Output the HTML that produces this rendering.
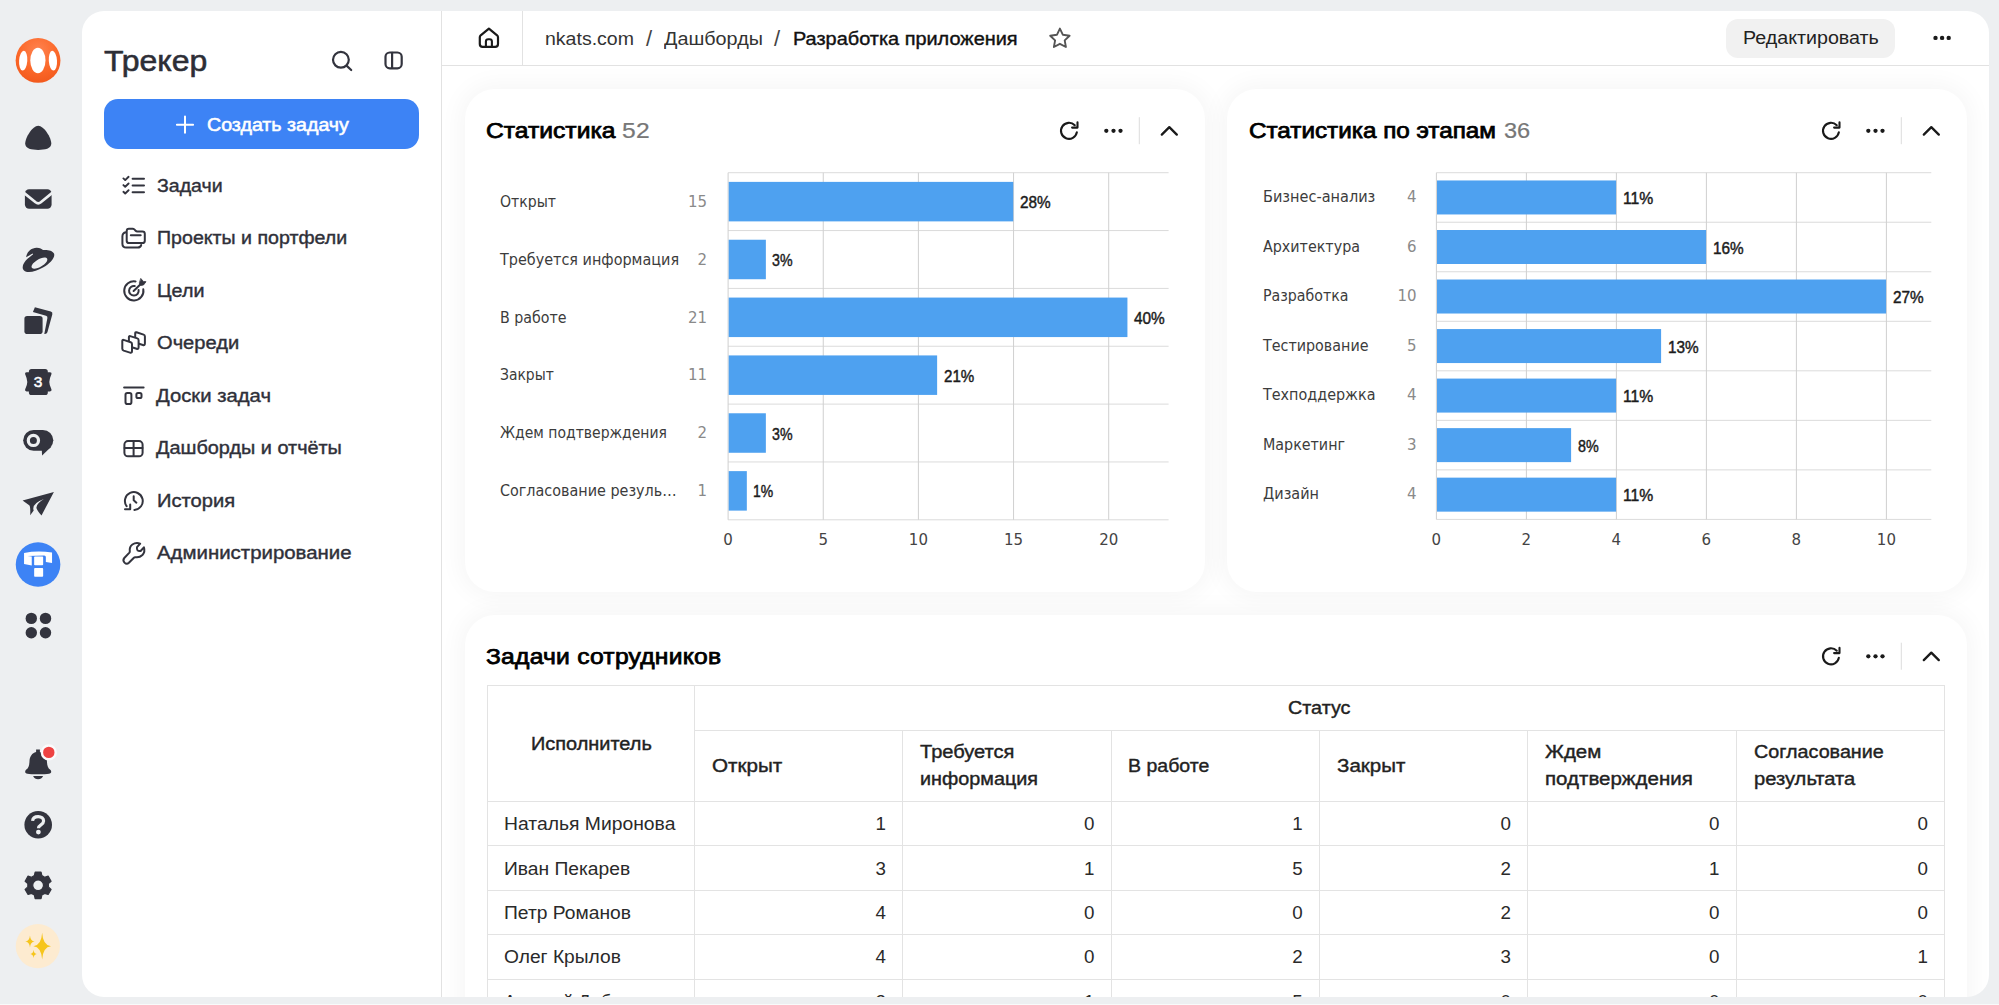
<!DOCTYPE html>
<html lang="ru">
<head>
<meta charset="utf-8">
<title>Разработка приложения</title>
<style>
*{box-sizing:border-box}
html,body{margin:0;padding:0}
body{width:1999px;height:1005px;background:#edeff1;position:relative;overflow:hidden;font-family:"Liberation Sans",sans-serif;color:#2d2e36}
.abs{position:absolute}
#rail{position:absolute;left:0;top:0;width:82px;height:1005px}
#panel{position:absolute;left:82px;top:11px;width:1907px;height:985.5px;background:#fff;border-radius:22px;overflow:hidden}
#inner{position:absolute;left:-82px;top:-11px;width:1999px;height:1005px}
.t{position:absolute;white-space:nowrap;line-height:1}
.vline{position:absolute;width:1px;background:#e3e3e3}
.hline{position:absolute;height:1px;background:#e3e3e3}
.card{position:absolute;background:#fff;border-radius:30px;box-shadow:0 0 24px 5px rgba(0,0,0,0.04)}
#create{position:absolute;left:104px;top:99.2px;width:315.2px;height:50.3px;border-radius:14px;background:#3d83f5}
#edit{position:absolute;left:1725.7px;top:18.6px;width:169.7px;height:39px;border-radius:12px;background:#f1f1f1}
</style>
</head>
<body>
<svg id="rail" viewBox="0 0 82 1005">
<defs>
<radialGradient id="lg" cx="0.5" cy="0.28" r="0.75"><stop offset="0" stop-color="#ff8350"/><stop offset="0.6" stop-color="#fb6728"/><stop offset="1" stop-color="#f1581c"/></radialGradient>
</defs>
<!-- logo -->
<circle cx="38.05" cy="60.45" r="22.4" fill="url(#lg)"/>
<ellipse cx="37.9" cy="60.45" rx="7.6" ry="12.7" fill="#fff"/>
<ellipse cx="23.2" cy="60.7" rx="4.1" ry="9.9" fill="#fff" transform="rotate(4 23.2 60.7)"/>
<ellipse cx="52.9" cy="60.7" rx="4.1" ry="9.9" fill="#fff" transform="rotate(-4 52.9 60.7)"/>
<g fill="#33343e">
<!-- alice -->
<path d="M38.2,125.7 C43.9,125.7 51.3,137.6 51.3,143.6 C51.3,148.9 44.8,149.9 38.2,149.9 C31.6,149.9 25.2,148.9 25.2,143.6 C25.2,137.6 32.5,125.7 38.2,125.7Z"/>
<!-- mail -->
<rect x="24.9" y="189.2" width="26.7" height="19.6" rx="4.2"/>
<path d="M23.6,192.6 L35.6,202.3 Q38.2,204.3 40.8,202.3 L52.9,192.4" fill="none" stroke="#edeff1" stroke-width="2.7"/>
<!-- disk -->
<path fill-rule="evenodd" d="M26.1,257.2 C27,251.5 31.5,248 36.5,247.8 C40,247.7 41.6,249.3 43,250 C47,249.6 52.5,250.2 54,253.5 C55.6,257.5 50,263.5 43,267.5 C36,271.5 27.5,273.8 24,270.5 C21,267.5 23.5,262.5 27.5,258.8 L33.2,254.2 L32.6,253.6 Z M47,258.6 C45.8,256.6 41.2,257.6 37,260.2 C32.8,262.8 30.6,266 31.9,267.8 C33.2,269.6 37.8,268.6 41.8,266 C46,263.4 48.2,260.4 47,258.6Z"/>
<!-- docs -->
<rect x="24.4" y="316.1" width="18.2" height="18" rx="2.8"/>
<path d="M34.9,307.3 L50.8,311.6 Q52.9,312.3 52.3,314.4 L47.4,332.3 Q46.8,334.1 45,334.1 L44.3,334.1 L47.4,318 Q47.7,316.2 46,315.7 L32.9,312.1 Z"/>
<!-- calendar -->
<rect x="28.9" y="368.9" width="18.9" height="26.2" rx="2.6"/>
<path d="M26.6,372.2 L50,372.2 Q52,372.2 51.5,374 Q49.3,379 49.3,381.9 Q49.3,385 51.5,389.6 Q52,391.4 50,391.4 L26.6,391.4 Q24.6,391.4 25.1,389.6 Q27.3,385 27.3,381.9 Q27.3,379 25.1,374 Q24.6,372.2 26.6,372.2Z"/>
<!-- telemost -->
<rect x="23.2" y="429.9" width="30.1" height="20.9" rx="10.45"/>
<path d="M41.8,450 L42.1,455.4 L51.5,446.5 Z"/>
<circle cx="33.4" cy="440.4" r="5.1" fill="none" stroke="#edeff1" stroke-width="3.2"/>
<!-- plane -->
<path d="M53.9,492.1 L22.6,500.4 L29.2,505.2 Q30.6,506.3 30.2,515.2 L33.7,510.6 Q31.2,503.8 43.9,499 Q36.5,503.5 36.4,507.4 Q36.6,510 41.5,515.4 Z"/>
<!-- apps -->
<circle cx="31.3" cy="618.4" r="5.7"/><circle cx="45.5" cy="618.4" r="5.7"/><circle cx="31.3" cy="632.7" r="5.7"/><circle cx="45.5" cy="632.7" r="5.7"/>
<!-- bell -->
<path d="M36.1,749.6 H39.9 V752 C44,753 46.6,756.5 46.9,761 C47.1,766 48,768 50,769.6 C52,771.2 51.5,773.1 49,773.7 C45,774.6 31,774.6 27.5,773.7 C24.6,773.1 24.6,771.2 26.3,769.6 C28.5,768 29.3,766 29.5,761 C29.8,756.5 32,753 36.1,752 Z"/>
<path d="M33.1,776 H43.1 Q41.5,779.2 38.1,779.2 Q34.7,779.2 33.1,776Z"/>
<!-- help -->
<circle cx="38.2" cy="824.7" r="13.8"/>
<!-- gear -->
<path fill-rule="evenodd" stroke="#33343e" stroke-width="1.2" stroke-linejoin="round" d="M34.37,875.59 L35.16,872.02 L41.04,872.02 L41.83,875.59 L44.64,877.22 L48.13,876.11 L51.07,881.21 L48.37,883.67 L48.37,886.93 L51.07,889.39 L48.13,894.49 L44.64,893.38 L41.83,895.01 L41.04,898.58 L35.16,898.58 L34.37,895.01 L31.56,893.38 L28.07,894.49 L25.13,889.39 L27.83,886.93 L27.83,883.67 L25.13,881.21 L28.07,876.11 L31.56,877.22Z M38.1,879.9 A5.4,5.4 0 1 0 38.1,890.7 A5.4,5.4 0 1 0 38.1,879.9Z"/>
</g>
<!-- calendar number -->
<text x="38.1" y="386.9" text-anchor="middle" font-family="Liberation Sans, sans-serif" font-weight="normal" font-size="15.5" fill="#fff" stroke="#fff" stroke-width="0.5">3</text>
<!-- bell badge -->
<circle cx="48.8" cy="752.4" r="6.9" fill="#ee4343" stroke="#fbfbfc" stroke-width="2.4"/>
<!-- help ? -->
<path d="M32.6,820.8 C32.8,818 35.2,816.6 38.2,816.6 C41.4,816.6 43.6,818.3 43.6,821 C43.6,825 38.5,824.6 38.5,828.2" fill="none" stroke="#edeff1" stroke-width="3.2"/>
<circle cx="38.4" cy="832.1" r="2.4" fill="#edeff1"/>
<!-- tracker -->
<circle cx="38.05" cy="564.5" r="22.3" fill="#3d83f5"/>
<g transform="translate(38.05 564.5)" fill="#fff">
<path d="M-14,-11.6 Q0,-14.2 14,-11.9 L14,-1.6 L7.8,-2.4 L7.8,-7.4 Q7.8,-8.9 6.2,-8.9 L-10.7,-8.5 L-6.3,-8 L-6.3,0.9 L-14,-0.6 Z"/>
<rect x="-3.9" y="-7.9" width="9" height="8.6" rx="0.8"/>
<rect x="-3.9" y="3.6" width="9" height="8.7" rx="0.8"/>
</g>
<!-- sparkle -->
<circle cx="37.85" cy="946.15" r="22.1" fill="#fdebd0"/>
<g fill="#f6c51c">
<path d="M42.15,932.7 Q42.9,945.4 51,946.15 Q42.9,946.9 42.15,959.6 Q41.4,946.9 33.3,946.15 Q41.4,945.4 42.15,932.7Z"/>
<path d="M29.97,935.5 Q30.4,941.1 34.6,941.55 Q30.4,942 29.97,947.6 Q29.5,942 25.3,941.55 Q29.5,941.1 29.97,935.5Z"/>
<path d="M33.55,949.8 Q33.9,953.5 36.7,953.9 Q33.9,954.3 33.55,958 Q33.2,954.3 30.4,953.9 Q33.2,953.5 33.55,949.8Z"/>
</g>

</svg>
<div class="abs" style="left:0;top:1004px;width:1999px;height:1px;background:#f9fafa"></div>
<div id="panel"><div id="inner">
<div class="card" style="left:464.5px;top:89px;width:740px;height:502.8px"></div>
<div class="card" style="left:1227px;top:89px;width:739.5px;height:502.8px"></div>
<div class="card" style="left:464.5px;top:614.5px;width:1502px;height:500px"></div>
<div class="vline" style="left:441px;top:0;height:1005px;background:#e2e2e2"></div>
<div class="hline" style="left:441px;top:65px;width:1560px;background:#e2e2e2"></div>
<div class="vline" style="left:522px;top:11px;height:54px;background:#e2e2e2"></div>
<div id="create"></div>
<div id="edit"></div>
<svg class="abs" style="left:0;top:0" width="1999" height="1005" viewBox="0 0 1999 1005"><g><rect x="728.10" y="172.20" width="440.50" height="1" fill="#dbdbdb"/><rect x="728.10" y="230.05" width="440.50" height="1" fill="#dbdbdb"/><rect x="728.10" y="287.90" width="440.50" height="1" fill="#dbdbdb"/><rect x="728.10" y="345.75" width="440.50" height="1" fill="#dbdbdb"/><rect x="728.10" y="403.60" width="440.50" height="1" fill="#dbdbdb"/><rect x="728.10" y="461.45" width="440.50" height="1" fill="#dbdbdb"/><rect x="728.10" y="519.30" width="440.50" height="1" fill="#dbdbdb"/><rect x="727.60" y="172.70" width="1" height="347.10" fill="#d0d0d0"/><rect x="822.75" y="172.70" width="1" height="347.10" fill="#d0d0d0"/><rect x="917.90" y="172.70" width="1" height="347.10" fill="#d0d0d0"/><rect x="1013.05" y="172.70" width="1" height="347.10" fill="#d0d0d0"/><rect x="1108.20" y="172.70" width="1" height="347.10" fill="#d0d0d0"/><rect x="728.70" y="181.88" width="284.55" height="39.50" fill="#4ea1f0"/><rect x="728.70" y="239.73" width="37.16" height="39.50" fill="#4ea1f0"/><rect x="728.70" y="297.57" width="398.73" height="39.50" fill="#4ea1f0"/><rect x="728.70" y="355.42" width="208.43" height="39.50" fill="#4ea1f0"/><rect x="728.70" y="413.27" width="37.16" height="39.50" fill="#4ea1f0"/><rect x="728.70" y="471.12" width="18.13" height="39.50" fill="#4ea1f0"/></g><g><rect x="1436.40" y="172.20" width="494.90" height="1" fill="#dbdbdb"/><rect x="1436.40" y="221.73" width="494.90" height="1" fill="#dbdbdb"/><rect x="1436.40" y="271.26" width="494.90" height="1" fill="#dbdbdb"/><rect x="1436.40" y="320.79" width="494.90" height="1" fill="#dbdbdb"/><rect x="1436.40" y="370.32" width="494.90" height="1" fill="#dbdbdb"/><rect x="1436.40" y="419.85" width="494.90" height="1" fill="#dbdbdb"/><rect x="1436.40" y="469.38" width="494.90" height="1" fill="#dbdbdb"/><rect x="1436.40" y="518.91" width="494.90" height="1" fill="#dbdbdb"/><rect x="1435.90" y="172.70" width="1" height="346.71" fill="#d0d0d0"/><rect x="1525.90" y="172.70" width="1" height="346.71" fill="#d0d0d0"/><rect x="1615.90" y="172.70" width="1" height="346.71" fill="#d0d0d0"/><rect x="1705.90" y="172.70" width="1" height="346.71" fill="#d0d0d0"/><rect x="1795.90" y="172.70" width="1" height="346.71" fill="#d0d0d0"/><rect x="1885.90" y="172.70" width="1" height="346.71" fill="#d0d0d0"/><rect x="1437.00" y="180.46" width="179.10" height="34.00" fill="#4ea1f0"/><rect x="1437.00" y="230.00" width="269.10" height="34.00" fill="#4ea1f0"/><rect x="1437.00" y="279.52" width="449.10" height="34.00" fill="#4ea1f0"/><rect x="1437.00" y="329.06" width="224.10" height="34.00" fill="#4ea1f0"/><rect x="1437.00" y="378.58" width="179.10" height="34.00" fill="#4ea1f0"/><rect x="1437.00" y="428.12" width="134.10" height="34.00" fill="#4ea1f0"/><rect x="1437.00" y="477.64" width="179.10" height="34.00" fill="#4ea1f0"/></g></svg>
<div class="hline" style="left:487.3px;top:684.7px;width:1457.3px"></div><div class="hline" style="left:694.3px;top:730.1px;width:1250.3px"></div><div class="hline" style="left:487.3px;top:800.7px;width:1457.3px"></div><div class="hline" style="left:487.3px;top:845.1px;width:1457.3px"></div><div class="hline" style="left:487.3px;top:889.6px;width:1457.3px"></div><div class="hline" style="left:487.3px;top:934.1px;width:1457.3px"></div><div class="hline" style="left:487.3px;top:978.7px;width:1457.3px"></div><div class="vline" style="left:486.8px;top:685.2px;height:330.0px"></div><div class="vline" style="left:693.8px;top:685.2px;height:330.0px"></div><div class="vline" style="left:1944.1px;top:685.2px;height:330.0px"></div><div class="vline" style="left:902.2px;top:730.6px;height:290.0px"></div><div class="vline" style="left:1110.6px;top:730.6px;height:290.0px"></div><div class="vline" style="left:1318.9px;top:730.6px;height:290.0px"></div><div class="vline" style="left:1527.3px;top:730.6px;height:290.0px"></div><div class="vline" style="left:1735.7px;top:730.6px;height:290.0px"></div>

<svg class="abs" style="left:0;top:0" width="1999" height="1005" viewBox="0 0 1999 1005">
<g fill="none" stroke="#33343e" stroke-width="2" stroke-linecap="round" stroke-linejoin="round">
<!-- search -->
<circle cx="340.9" cy="59.8" r="7.9" stroke-width="2.2"/><path d="M346.8,65.9 L351.2,70" stroke-width="2.2"/>
<!-- panel toggle -->
<rect x="385.5" y="52.5" width="16.2" height="15.8" rx="4.3" stroke-width="2.2"/><path d="M392.1,52.8 V68" stroke-width="2.2"/>
<!-- plus -->
<path d="M185,116.6 V132.8 M176.9,124.7 H193.1" stroke="#fff" stroke-width="2"/>
<!-- tasks -->
<path d="M132.6,178.8 H144 M132.6,185.5 H144 M132.6,192.2 H144"/>
<path d="M123.4,178.4 L125.2,180.1 L128.6,176.8 M123.4,185.1 L125.2,186.8 L128.6,183.5 M123.4,191.8 L125.2,193.5 L128.6,190.2" stroke-width="1.9"/>
<!-- projects -->
<path d="M128.9,228.7 H132.6 Q133.6,228.7 134.3,229.4 L135.6,230.7 Q136.3,231.4 137.3,231.4 H142.4 Q144.8,231.4 144.8,233.8 V240.7 Q144.8,243.1 142.4,243.1 H129.1 Q126.7,243.1 126.7,240.7 V231.1 Q126.7,228.7 128.9,228.7Z"/>
<path d="M130.8,235.3 H140.7"/>
<path d="M125.9,232.3 Q122.4,232.9 122.4,236.6 V243.8 Q122.4,247.6 126.2,247.6 H137.6 Q140.6,247.6 141.2,245"/>
<!-- goals -->
<path d="M135.6,281.4 A9.6,9.6 0 1 0 143.3,289.3"/>
<path d="M134.8,286.1 A4.8,4.8 0 1 0 138.6,290"/>
<path d="M133.6,291 L140,284.8"/>
<path d="M141,278.7 L143.3,281.4 L146,281.7 L143.5,285 L140.6,285.5 L139.4,283.4 Z" fill="#33343e" stroke-width="0.8"/>
<!-- queues -->
<g fill="#fff">
<path d="M136.5,332.3 L143.6,334.6 Q144.9,335 144.9,336.4 V343.3 Q144.9,345.6 142.9,345 L136.6,343 Q135.2,342.5 135.2,341.1 V333.4 Q135.2,331.9 136.5,332.3Z"/>
<path d="M130.2,336.1 L137.3,338.4 Q138.6,338.8 138.6,340.2 V347.1 Q138.6,349.4 136.6,348.8 L130.3,346.8 Q128.9,346.3 128.9,344.9 V337.2 Q128.9,335.7 130.2,336.1Z"/>
<path d="M123.6,339.9 L130.7,342.2 Q132,342.6 132,344 V350.9 Q132,353.2 130,352.6 L123.7,350.6 Q122.3,350.1 122.3,348.7 V341 Q122.3,339.5 123.6,339.9Z"/>
</g>
<!-- boards -->
<path d="M124.1,387.5 H143.6"/>
<rect x="125.5" y="392.9" width="5.9" height="11.2" rx="1.8"/>
<rect x="136.4" y="392.9" width="5.1" height="5.2" rx="1.6"/>
<!-- dashboards -->
<rect x="124.4" y="441.1" width="18.2" height="15.2" rx="3.6"/>
<path d="M133.6,441.3 V456.1 M124.6,448 H142.4"/>
<!-- history -->
<path d="M134.4,509.9 A8.9,8.9 0 1 0 126.6,506.2"/>
<path d="M125,509.3 H130.2 V504.4"/>
<path d="M133.7,496.2 V500.3 L136.4,502.7"/>
<!-- wrench -->
<path d="M124.3,558 L129.4,552.6 Q129.9,552 129.8,551.2 Q129.2,546.8 132.4,544.5 Q135.8,542.2 140.2,543.6 L137,547.2 Q136.6,549.5 137.6,550.4 Q138.6,551.4 140.6,551 L143.9,547.3 Q145.4,551.6 142.4,555 Q139.4,558 135.3,557.2 Q134.5,557.1 133.9,557.7 L128.9,562.8 Q126.7,564.8 124.5,562.6 Q122.4,560.3 124.3,558Z"/>
</g>
<g fill="none" stroke="#1a1a1a" stroke-width="2.1" stroke-linecap="round" stroke-linejoin="round">
<!-- home -->
<path d="M488.9,28.6 L497.1,35.3 Q498,36.1 498,37.3 V44 Q498,46.8 495.2,46.8 H482.6 Q479.8,46.8 479.8,44 V37.3 Q479.8,36.1 480.7,35.3 Z" stroke-width="2.2"/>
<path d="M485.9,46.6 V41.6 Q485.9,39.3 488.2,39.3 H489.6 Q491.9,39.3 491.9,41.6 V46.6" stroke-width="2.1"/>
<path d="M1074.75,125.24 A8,8 0 1 0 1076.88,132.19" /><path d="M1077.50,122.40 V127.60 H1072.10" /><path d="M1161.80,134.60 L1169.30,127.10 L1176.80,134.60" stroke-width="2.3"/><circle cx="1106.30" cy="130.80" r="2.15" fill="#1a1a1a" stroke="none"/><circle cx="1113.50" cy="130.80" r="2.15" fill="#1a1a1a" stroke="none"/><circle cx="1120.50" cy="130.80" r="2.15" fill="#1a1a1a" stroke="none"/><rect x="1138.80" y="117.20" width="1" height="27" fill="#dcdcdc" stroke="none"/>
<path d="M1836.75,125.24 A8,8 0 1 0 1838.88,132.19" /><path d="M1839.50,122.40 V127.60 H1834.10" /><path d="M1923.80,134.60 L1931.30,127.10 L1938.80,134.60" stroke-width="2.3"/><circle cx="1868.30" cy="130.80" r="2.15" fill="#1a1a1a" stroke="none"/><circle cx="1875.50" cy="130.80" r="2.15" fill="#1a1a1a" stroke="none"/><circle cx="1882.50" cy="130.80" r="2.15" fill="#1a1a1a" stroke="none"/><rect x="1900.80" y="117.20" width="1" height="27" fill="#dcdcdc" stroke="none"/>
<path d="M1836.75,650.74 A8,8 0 1 0 1838.88,657.69" /><path d="M1839.50,647.90 V653.10 H1834.10" /><path d="M1923.80,660.10 L1931.30,652.60 L1938.80,660.10" stroke-width="2.3"/><circle cx="1868.30" cy="656.30" r="2.15" fill="#1a1a1a" stroke="none"/><circle cx="1875.50" cy="656.30" r="2.15" fill="#1a1a1a" stroke="none"/><circle cx="1882.50" cy="656.30" r="2.15" fill="#1a1a1a" stroke="none"/><rect x="1900.80" y="642.70" width="1" height="27" fill="#dcdcdc" stroke="none"/>
</g>
<!-- star -->
<path d="M1059.9,28.6 L1062.9,34.8 L1069.6,35.7 L1064.7,40.4 L1065.9,47 L1059.9,43.8 L1053.9,47 L1055.1,40.4 L1050.2,35.7 L1056.9,34.8 Z" fill="none" stroke="#555" stroke-width="1.9" stroke-linejoin="round"/>
<!-- topbar dots -->
<circle cx="1935.5" cy="37.9" r="2.2" fill="#1a1a1a"/><circle cx="1942.1" cy="37.9" r="2.2" fill="#1a1a1a"/><circle cx="1948.7" cy="37.9" r="2.2" fill="#1a1a1a"/>
</svg>

<div class="t" style="top:46.00px;font:normal 30px/1 'Liberation Sans',sans-serif;color:#2d2e36;-webkit-text-stroke:0.55px #2d2e36;transform:scaleX(1.0667);transform-origin:0 0;left:104.40px;">Трекер</div>
<div class="t" style="top:116.00px;font:normal 18.75px/1 'Liberation Sans',sans-serif;color:#fff;-webkit-text-stroke:0.55px #fff;transform:scaleX(1.0465);transform-origin:0 0;left:207.10px;">Создать задачу</div>
<div class="t" style="top:177.00px;font:normal 18.75px/1 'Liberation Sans',sans-serif;color:#2f3039;-webkit-text-stroke:0.4px #2f3039;transform:scaleX(1.0436);transform-origin:0 0;left:157.00px;">Задачи</div>
<div class="t" style="top:229.00px;font:normal 18.75px/1 'Liberation Sans',sans-serif;color:#2f3039;-webkit-text-stroke:0.4px #2f3039;transform:scaleX(1.0452);transform-origin:0 0;left:157.40px;">Проекты и портфели</div>
<div class="t" style="top:282.00px;font:normal 18.75px/1 'Liberation Sans',sans-serif;color:#2f3039;-webkit-text-stroke:0.4px #2f3039;transform:scaleX(1.0511);transform-origin:0 0;left:157.40px;">Цели</div>
<div class="t" style="top:334.00px;font:normal 18.75px/1 'Liberation Sans',sans-serif;color:#2f3039;-webkit-text-stroke:0.4px #2f3039;transform:scaleX(1.0725);transform-origin:0 0;left:157.00px;">Очереди</div>
<div class="t" style="top:387.00px;font:normal 18.75px/1 'Liberation Sans',sans-serif;color:#2f3039;-webkit-text-stroke:0.4px #2f3039;transform:scaleX(1.0812);transform-origin:0 0;left:156.40px;">Доски задач</div>
<div class="t" style="top:439.00px;font:normal 18.75px/1 'Liberation Sans',sans-serif;color:#2f3039;-webkit-text-stroke:0.4px #2f3039;transform:scaleX(1.0592);transform-origin:0 0;left:156.40px;">Дашборды и отчёты</div>
<div class="t" style="top:492.00px;font:normal 18.75px/1 'Liberation Sans',sans-serif;color:#2f3039;-webkit-text-stroke:0.4px #2f3039;transform:scaleX(1.0754);transform-origin:0 0;left:157.40px;">История</div>
<div class="t" style="top:544.00px;font:normal 18.75px/1 'Liberation Sans',sans-serif;color:#2f3039;-webkit-text-stroke:0.4px #2f3039;transform:scaleX(1.0884);transform-origin:0 0;left:157.00px;">Администрирование</div>
<div class="t" style="top:30.00px;font:normal 18.75px/1 'Liberation Sans',sans-serif;color:#333;transform:scaleX(1.0415);transform-origin:0 0;left:545.30px;">nkats.com</div>
<div class="t" style="top:28.00px;font:normal 22px/1 'Liberation Sans',sans-serif;color:#444;left:646.10px;">/</div>
<div class="t" style="top:30.00px;font:normal 18.75px/1 'Liberation Sans',sans-serif;color:#333;transform:scaleX(1.0549);transform-origin:0 0;left:664.10px;">Дашборды</div>
<div class="t" style="top:28.00px;font:normal 22px/1 'Liberation Sans',sans-serif;color:#444;left:774.00px;">/</div>
<div class="t" style="top:30.00px;font:normal 18.75px/1 'Liberation Sans',sans-serif;color:#111;-webkit-text-stroke:0.4px #111;transform:scaleX(1.0618);transform-origin:0 0;left:793.40px;">Разработка приложения</div>
<div class="t" style="top:29.00px;font:normal 18.75px/1 'Liberation Sans',sans-serif;color:#222;transform:scaleX(1.0484);transform-origin:0 0;left:1742.70px;">Редактировать</div>
<div class="t" style="top:121.00px;font:normal 21.25px/1 'Liberation Sans',sans-serif;color:#000;-webkit-text-stroke:0.75px #000;transform:scaleX(1.1600);transform-origin:0 0;left:486.20px;">Статистика</div>
<div class="t" style="top:121.00px;font:normal 21.25px/1 'Liberation Sans',sans-serif;color:#777;letter-spacing:0.325px;-webkit-text-stroke:0.2px #777;transform:scaleX(1.1600);transform-origin:0 0;left:621.90px;">52</div>
<div class="t" style="top:121.00px;font:normal 21.25px/1 'Liberation Sans',sans-serif;color:#000;-webkit-text-stroke:0.75px #000;transform:scaleX(1.1415);transform-origin:0 0;left:1249.00px;">Статистика по этапам</div>
<div class="t" style="top:121.00px;font:normal 21.25px/1 'Liberation Sans',sans-serif;color:#777;-webkit-text-stroke:0.2px #777;transform:scaleX(1.1083);transform-origin:0 0;left:1503.50px;">36</div>
<div class="t" style="top:647.00px;font:normal 21.25px/1 'Liberation Sans',sans-serif;color:#000;letter-spacing:0.191px;-webkit-text-stroke:0.75px #000;transform:scaleX(1.1600);transform-origin:0 0;left:486.40px;">Задачи сотрудников</div>
<div class="t" style="top:195.00px;font:normal 15px/1 'DejaVu Sans','Liberation Sans',sans-serif;color:#3c3c3c;transform:scaleX(0.9377);transform-origin:0 0;left:499.70px;">Открыт</div>
<div class="t" style="top:195.00px;font:normal 15px/1 'DejaVu Sans','Liberation Sans',sans-serif;color:#8a8a8a;right:1291.90px;">15</div>
<div class="t" style="top:194.00px;font:normal 16.25px/1 'Liberation Sans',sans-serif;color:#1c1c1c;-webkit-text-stroke:0.45px #1c1c1c;transform:scaleX(0.9437);transform-origin:0 0;left:1019.85px;">28%</div>
<div class="t" style="top:253.00px;font:normal 15px/1 'DejaVu Sans','Liberation Sans',sans-serif;color:#3c3c3c;transform:scaleX(0.9597);transform-origin:0 0;left:499.70px;">Требуется информация</div>
<div class="t" style="top:253.00px;font:normal 15px/1 'DejaVu Sans','Liberation Sans',sans-serif;color:#8a8a8a;right:1291.90px;">2</div>
<div class="t" style="top:252.00px;font:normal 16.25px/1 'Liberation Sans',sans-serif;color:#1c1c1c;-webkit-text-stroke:0.45px #1c1c1c;transform:scaleX(0.8723);transform-origin:0 0;left:772.46px;">3%</div>
<div class="t" style="top:311.00px;font:normal 15px/1 'DejaVu Sans','Liberation Sans',sans-serif;color:#3c3c3c;transform:scaleX(0.9491);transform-origin:0 0;left:499.70px;">В работе</div>
<div class="t" style="top:311.00px;font:normal 15px/1 'DejaVu Sans','Liberation Sans',sans-serif;color:#8a8a8a;right:1291.90px;">21</div>
<div class="t" style="top:310.00px;font:normal 16.25px/1 'Liberation Sans',sans-serif;color:#1c1c1c;-webkit-text-stroke:0.45px #1c1c1c;transform:scaleX(0.9468);transform-origin:0 0;left:1134.03px;">40%</div>
<div class="t" style="top:368.00px;font:normal 15px/1 'DejaVu Sans','Liberation Sans',sans-serif;color:#3c3c3c;transform:scaleX(0.9278);transform-origin:0 0;left:499.70px;">Закрыт</div>
<div class="t" style="top:368.00px;font:normal 15px/1 'DejaVu Sans','Liberation Sans',sans-serif;color:#8a8a8a;right:1291.90px;">11</div>
<div class="t" style="top:368.00px;font:normal 16.25px/1 'Liberation Sans',sans-serif;color:#1c1c1c;-webkit-text-stroke:0.45px #1c1c1c;transform:scaleX(0.9314);transform-origin:0 0;left:943.73px;">21%</div>
<div class="t" style="top:426.00px;font:normal 15px/1 'DejaVu Sans','Liberation Sans',sans-serif;color:#3c3c3c;transform:scaleX(0.9318);transform-origin:0 0;left:499.70px;">Ждем подтверждения</div>
<div class="t" style="top:426.00px;font:normal 15px/1 'DejaVu Sans','Liberation Sans',sans-serif;color:#8a8a8a;right:1291.90px;">2</div>
<div class="t" style="top:426.00px;font:normal 16.25px/1 'Liberation Sans',sans-serif;color:#1c1c1c;-webkit-text-stroke:0.45px #1c1c1c;transform:scaleX(0.8723);transform-origin:0 0;left:772.46px;">3%</div>
<div class="t" style="top:484.00px;font:normal 15px/1 'DejaVu Sans','Liberation Sans',sans-serif;color:#3c3c3c;transform:scaleX(0.9579);transform-origin:0 0;left:499.70px;">Согласование резуль…</div>
<div class="t" style="top:484.00px;font:normal 15px/1 'DejaVu Sans','Liberation Sans',sans-serif;color:#8a8a8a;right:1291.90px;">1</div>
<div class="t" style="top:483.00px;font:normal 16.25px/1 'Liberation Sans',sans-serif;color:#1c1c1c;-webkit-text-stroke:0.45px #1c1c1c;transform:scaleX(0.8596);transform-origin:0 0;left:753.43px;">1%</div>
<div class="t" style="top:533.00px;font:normal 15px/1 'DejaVu Sans','Liberation Sans',sans-serif;color:#444;left:628.10px;width:200px;text-align:center;">0</div>
<div class="t" style="top:533.00px;font:normal 15px/1 'DejaVu Sans','Liberation Sans',sans-serif;color:#444;left:723.25px;width:200px;text-align:center;">5</div>
<div class="t" style="top:533.00px;font:normal 15px/1 'DejaVu Sans','Liberation Sans',sans-serif;color:#444;left:818.40px;width:200px;text-align:center;">10</div>
<div class="t" style="top:533.00px;font:normal 15px/1 'DejaVu Sans','Liberation Sans',sans-serif;color:#444;left:913.55px;width:200px;text-align:center;">15</div>
<div class="t" style="top:533.00px;font:normal 15px/1 'DejaVu Sans','Liberation Sans',sans-serif;color:#444;left:1008.70px;width:200px;text-align:center;">20</div>
<div class="t" style="top:190.00px;font:normal 15px/1 'DejaVu Sans','Liberation Sans',sans-serif;color:#3c3c3c;transform:scaleX(0.9663);transform-origin:0 0;left:1262.70px;">Бизнес-анализ</div>
<div class="t" style="top:190.00px;font:normal 15px/1 'DejaVu Sans','Liberation Sans',sans-serif;color:#8a8a8a;right:582.40px;">4</div>
<div class="t" style="top:190.00px;font:normal 16.25px/1 'Liberation Sans',sans-serif;color:#1c1c1c;-webkit-text-stroke:0.45px #1c1c1c;transform:scaleX(0.9672);transform-origin:0 0;left:1622.70px;">11%</div>
<div class="t" style="top:240.00px;font:normal 15px/1 'DejaVu Sans','Liberation Sans',sans-serif;color:#3c3c3c;transform:scaleX(0.9532);transform-origin:0 0;left:1262.70px;">Архитектура</div>
<div class="t" style="top:240.00px;font:normal 15px/1 'DejaVu Sans','Liberation Sans',sans-serif;color:#8a8a8a;right:582.40px;">6</div>
<div class="t" style="top:240.00px;font:normal 16.25px/1 'Liberation Sans',sans-serif;color:#1c1c1c;-webkit-text-stroke:0.45px #1c1c1c;transform:scaleX(0.9437);transform-origin:0 0;left:1712.70px;">16%</div>
<div class="t" style="top:289.00px;font:normal 15px/1 'DejaVu Sans','Liberation Sans',sans-serif;color:#3c3c3c;transform:scaleX(0.9462);transform-origin:0 0;left:1262.70px;">Разработка</div>
<div class="t" style="top:289.00px;font:normal 15px/1 'DejaVu Sans','Liberation Sans',sans-serif;color:#8a8a8a;right:582.40px;">10</div>
<div class="t" style="top:289.00px;font:normal 16.25px/1 'Liberation Sans',sans-serif;color:#1c1c1c;-webkit-text-stroke:0.45px #1c1c1c;transform:scaleX(0.9437);transform-origin:0 0;left:1892.70px;">27%</div>
<div class="t" style="top:339.00px;font:normal 15px/1 'DejaVu Sans','Liberation Sans',sans-serif;color:#3c3c3c;transform:scaleX(0.9535);transform-origin:0 0;left:1262.70px;">Тестирование</div>
<div class="t" style="top:339.00px;font:normal 15px/1 'DejaVu Sans','Liberation Sans',sans-serif;color:#8a8a8a;right:582.40px;">5</div>
<div class="t" style="top:339.00px;font:normal 16.25px/1 'Liberation Sans',sans-serif;color:#1c1c1c;-webkit-text-stroke:0.45px #1c1c1c;transform:scaleX(0.9437);transform-origin:0 0;left:1667.70px;">13%</div>
<div class="t" style="top:388.00px;font:normal 15px/1 'DejaVu Sans','Liberation Sans',sans-serif;color:#3c3c3c;transform:scaleX(0.9573);transform-origin:0 0;left:1262.70px;">Техподдержка</div>
<div class="t" style="top:388.00px;font:normal 15px/1 'DejaVu Sans','Liberation Sans',sans-serif;color:#8a8a8a;right:582.40px;">4</div>
<div class="t" style="top:388.00px;font:normal 16.25px/1 'Liberation Sans',sans-serif;color:#1c1c1c;-webkit-text-stroke:0.45px #1c1c1c;transform:scaleX(0.9672);transform-origin:0 0;left:1622.70px;">11%</div>
<div class="t" style="top:438.00px;font:normal 15px/1 'DejaVu Sans','Liberation Sans',sans-serif;color:#3c3c3c;transform:scaleX(0.9521);transform-origin:0 0;left:1262.70px;">Маркетинг</div>
<div class="t" style="top:438.00px;font:normal 15px/1 'DejaVu Sans','Liberation Sans',sans-serif;color:#8a8a8a;right:582.40px;">3</div>
<div class="t" style="top:438.00px;font:normal 16.25px/1 'Liberation Sans',sans-serif;color:#1c1c1c;-webkit-text-stroke:0.45px #1c1c1c;transform:scaleX(0.8809);transform-origin:0 0;left:1577.70px;">8%</div>
<div class="t" style="top:487.00px;font:normal 15px/1 'DejaVu Sans','Liberation Sans',sans-serif;color:#3c3c3c;transform:scaleX(0.9621);transform-origin:0 0;left:1262.70px;">Дизайн</div>
<div class="t" style="top:487.00px;font:normal 15px/1 'DejaVu Sans','Liberation Sans',sans-serif;color:#8a8a8a;right:582.40px;">4</div>
<div class="t" style="top:487.00px;font:normal 16.25px/1 'Liberation Sans',sans-serif;color:#1c1c1c;-webkit-text-stroke:0.45px #1c1c1c;transform:scaleX(0.9672);transform-origin:0 0;left:1622.70px;">11%</div>
<div class="t" style="top:533.00px;font:normal 15px/1 'DejaVu Sans','Liberation Sans',sans-serif;color:#444;left:1336.40px;width:200px;text-align:center;">0</div>
<div class="t" style="top:533.00px;font:normal 15px/1 'DejaVu Sans','Liberation Sans',sans-serif;color:#444;left:1426.40px;width:200px;text-align:center;">2</div>
<div class="t" style="top:533.00px;font:normal 15px/1 'DejaVu Sans','Liberation Sans',sans-serif;color:#444;left:1516.40px;width:200px;text-align:center;">4</div>
<div class="t" style="top:533.00px;font:normal 15px/1 'DejaVu Sans','Liberation Sans',sans-serif;color:#444;left:1606.40px;width:200px;text-align:center;">6</div>
<div class="t" style="top:533.00px;font:normal 15px/1 'DejaVu Sans','Liberation Sans',sans-serif;color:#444;left:1696.40px;width:200px;text-align:center;">8</div>
<div class="t" style="top:533.00px;font:normal 15px/1 'DejaVu Sans','Liberation Sans',sans-serif;color:#444;left:1786.40px;width:200px;text-align:center;">10</div>
<div class="t" style="top:735.00px;font:normal 18.75px/1 'Liberation Sans',sans-serif;color:#222;-webkit-text-stroke:0.4px #222;transform:scaleX(1.0626);transform-origin:0 0;left:530.60px;">Исполнитель</div>
<div class="t" style="top:699.00px;font:normal 18.75px/1 'Liberation Sans',sans-serif;color:#222;-webkit-text-stroke:0.4px #222;transform:scaleX(1.0543);transform-origin:0 0;left:1288.20px;">Статус</div>
<div class="t" style="top:757.00px;font:normal 18.75px/1 'Liberation Sans',sans-serif;color:#222;-webkit-text-stroke:0.4px #222;transform:scaleX(1.1006);transform-origin:0 0;left:711.60px;">Открыт</div>
<div class="t" style="top:743.00px;font:normal 18.75px/1 'Liberation Sans',sans-serif;color:#222;-webkit-text-stroke:0.4px #222;transform:scaleX(1.0708);transform-origin:0 0;left:920.00px;">Требуется</div>
<div class="t" style="top:770.00px;font:normal 18.75px/1 'Liberation Sans',sans-serif;color:#222;-webkit-text-stroke:0.4px #222;transform:scaleX(1.0555);transform-origin:0 0;left:920.00px;">информация</div>
<div class="t" style="top:757.00px;font:normal 18.75px/1 'Liberation Sans',sans-serif;color:#222;-webkit-text-stroke:0.4px #222;transform:scaleX(1.0404);transform-origin:0 0;left:1128.40px;">В работе</div>
<div class="t" style="top:757.00px;font:normal 18.75px/1 'Liberation Sans',sans-serif;color:#222;-webkit-text-stroke:0.4px #222;transform:scaleX(1.0936);transform-origin:0 0;left:1336.70px;">Закрыт</div>
<div class="t" style="top:743.00px;font:normal 18.75px/1 'Liberation Sans',sans-serif;color:#222;-webkit-text-stroke:0.4px #222;transform:scaleX(1.0915);transform-origin:0 0;left:1545.10px;">Ждем</div>
<div class="t" style="top:770.00px;font:normal 18.75px/1 'Liberation Sans',sans-serif;color:#222;-webkit-text-stroke:0.4px #222;transform:scaleX(1.0932);transform-origin:0 0;left:1545.10px;">подтверждения</div>
<div class="t" style="top:743.00px;font:normal 18.75px/1 'Liberation Sans',sans-serif;color:#222;-webkit-text-stroke:0.4px #222;transform:scaleX(1.0534);transform-origin:0 0;left:1753.50px;">Согласование</div>
<div class="t" style="top:770.00px;font:normal 18.75px/1 'Liberation Sans',sans-serif;color:#222;-webkit-text-stroke:0.4px #222;transform:scaleX(1.0748);transform-origin:0 0;left:1753.50px;">результата</div>
<div class="t" style="top:815.00px;font:normal 18.75px/1 'Liberation Sans',sans-serif;color:#2a2a2a;transform:scaleX(1.0304);transform-origin:0 0;left:504.30px;">Наталья Миронова</div>
<div class="t" style="top:815.00px;font:normal 18.75px/1 'Liberation Sans',sans-serif;color:#2a2a2a;right:1113.10px;">1</div>
<div class="t" style="top:815.00px;font:normal 18.75px/1 'Liberation Sans',sans-serif;color:#2a2a2a;right:904.70px;">0</div>
<div class="t" style="top:815.00px;font:normal 18.75px/1 'Liberation Sans',sans-serif;color:#2a2a2a;right:696.40px;">1</div>
<div class="t" style="top:815.00px;font:normal 18.75px/1 'Liberation Sans',sans-serif;color:#2a2a2a;right:488.00px;">0</div>
<div class="t" style="top:815.00px;font:normal 18.75px/1 'Liberation Sans',sans-serif;color:#2a2a2a;right:279.60px;">0</div>
<div class="t" style="top:815.00px;font:normal 18.75px/1 'Liberation Sans',sans-serif;color:#2a2a2a;right:71.20px;">0</div>
<div class="t" style="top:860.00px;font:normal 18.75px/1 'Liberation Sans',sans-serif;color:#2a2a2a;transform:scaleX(1.0261);transform-origin:0 0;left:504.30px;">Иван Пекарев</div>
<div class="t" style="top:860.00px;font:normal 18.75px/1 'Liberation Sans',sans-serif;color:#2a2a2a;right:1113.10px;">3</div>
<div class="t" style="top:860.00px;font:normal 18.75px/1 'Liberation Sans',sans-serif;color:#2a2a2a;right:904.70px;">1</div>
<div class="t" style="top:860.00px;font:normal 18.75px/1 'Liberation Sans',sans-serif;color:#2a2a2a;right:696.40px;">5</div>
<div class="t" style="top:860.00px;font:normal 18.75px/1 'Liberation Sans',sans-serif;color:#2a2a2a;right:488.00px;">2</div>
<div class="t" style="top:860.00px;font:normal 18.75px/1 'Liberation Sans',sans-serif;color:#2a2a2a;right:279.60px;">1</div>
<div class="t" style="top:860.00px;font:normal 18.75px/1 'Liberation Sans',sans-serif;color:#2a2a2a;right:71.20px;">0</div>
<div class="t" style="top:904.00px;font:normal 18.75px/1 'Liberation Sans',sans-serif;color:#2a2a2a;transform:scaleX(1.0268);transform-origin:0 0;left:504.30px;">Петр Романов</div>
<div class="t" style="top:904.00px;font:normal 18.75px/1 'Liberation Sans',sans-serif;color:#2a2a2a;right:1113.10px;">4</div>
<div class="t" style="top:904.00px;font:normal 18.75px/1 'Liberation Sans',sans-serif;color:#2a2a2a;right:904.70px;">0</div>
<div class="t" style="top:904.00px;font:normal 18.75px/1 'Liberation Sans',sans-serif;color:#2a2a2a;right:696.40px;">0</div>
<div class="t" style="top:904.00px;font:normal 18.75px/1 'Liberation Sans',sans-serif;color:#2a2a2a;right:488.00px;">2</div>
<div class="t" style="top:904.00px;font:normal 18.75px/1 'Liberation Sans',sans-serif;color:#2a2a2a;right:279.60px;">0</div>
<div class="t" style="top:904.00px;font:normal 18.75px/1 'Liberation Sans',sans-serif;color:#2a2a2a;right:71.20px;">0</div>
<div class="t" style="top:948.00px;font:normal 18.75px/1 'Liberation Sans',sans-serif;color:#2a2a2a;transform:scaleX(1.0239);transform-origin:0 0;left:504.30px;">Олег Крылов</div>
<div class="t" style="top:948.00px;font:normal 18.75px/1 'Liberation Sans',sans-serif;color:#2a2a2a;right:1113.10px;">4</div>
<div class="t" style="top:948.00px;font:normal 18.75px/1 'Liberation Sans',sans-serif;color:#2a2a2a;right:904.70px;">0</div>
<div class="t" style="top:948.00px;font:normal 18.75px/1 'Liberation Sans',sans-serif;color:#2a2a2a;right:696.40px;">2</div>
<div class="t" style="top:948.00px;font:normal 18.75px/1 'Liberation Sans',sans-serif;color:#2a2a2a;right:488.00px;">3</div>
<div class="t" style="top:948.00px;font:normal 18.75px/1 'Liberation Sans',sans-serif;color:#2a2a2a;right:279.60px;">0</div>
<div class="t" style="top:948.00px;font:normal 18.75px/1 'Liberation Sans',sans-serif;color:#2a2a2a;right:71.20px;">1</div>
<div class="t" style="top:993.00px;font:normal 18.75px/1 'Liberation Sans',sans-serif;color:#2a2a2a;transform:scaleX(0.9560);transform-origin:0 0;left:504.30px;">Алексей Добров</div>
<div class="t" style="top:993.00px;font:normal 18.75px/1 'Liberation Sans',sans-serif;color:#2a2a2a;right:1113.10px;">2</div>
<div class="t" style="top:993.00px;font:normal 18.75px/1 'Liberation Sans',sans-serif;color:#2a2a2a;right:904.70px;">1</div>
<div class="t" style="top:993.00px;font:normal 18.75px/1 'Liberation Sans',sans-serif;color:#2a2a2a;right:696.40px;">5</div>
<div class="t" style="top:993.00px;font:normal 18.75px/1 'Liberation Sans',sans-serif;color:#2a2a2a;right:488.00px;">0</div>
<div class="t" style="top:993.00px;font:normal 18.75px/1 'Liberation Sans',sans-serif;color:#2a2a2a;right:279.60px;">0</div>
<div class="t" style="top:993.00px;font:normal 18.75px/1 'Liberation Sans',sans-serif;color:#2a2a2a;right:71.20px;">0</div>
</div></div>
</body>
</html>
